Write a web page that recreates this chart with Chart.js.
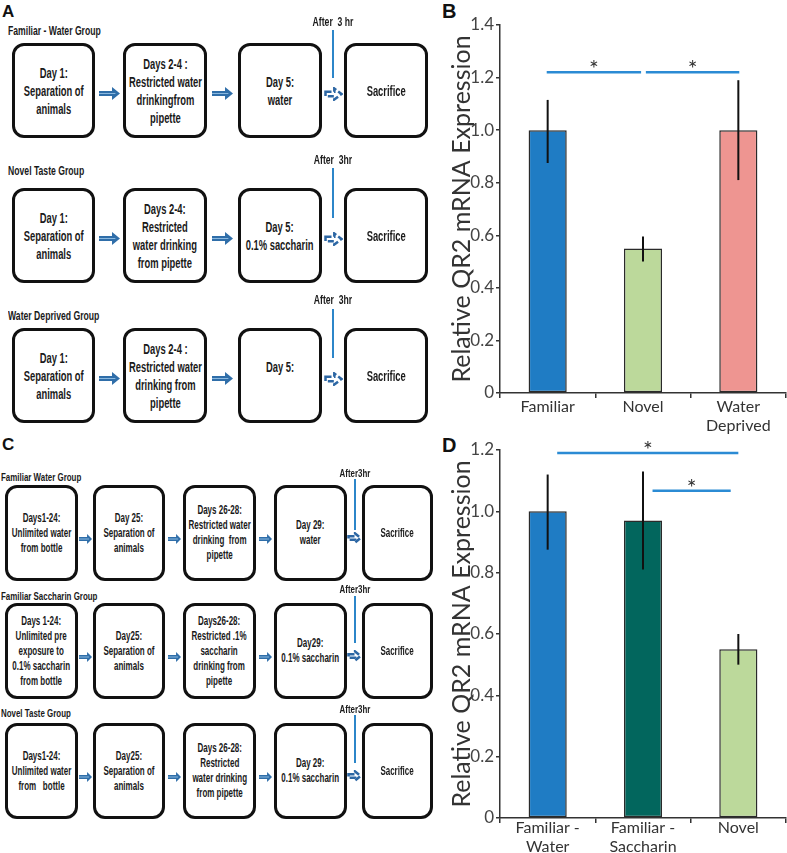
<!DOCTYPE html>
<html>
<head>
<meta charset="utf-8">
<script src="https://cdn.jsdelivr.net/npm/chart.js@4.4.0/dist/chart.umd.min.js"></script>
<style>
  body { margin: 0; background: #fff; }
  #page { position: relative; width: 787px; height: 853px; overflow: hidden; background: #fff; }
  .flow { font-family: "Liberation Sans Narrow", "Liberation Sans", Arial, sans-serif; font-weight: bold; color: #1a1a1a; }
  .box { position: absolute; box-sizing: border-box; border: 3px solid #111; border-radius: 12px; display: flex; align-items: center; justify-content: center; text-align: center; }
  .box .txt { white-space: nowrap; }
  .lbl { position: absolute; white-space: nowrap; transform-origin: left center; }
  .after { position: absolute; white-space: nowrap; }
  .vline { position: absolute; width: 2px; background: #2c86c9; }
  .panel { position: absolute; font-family: "Liberation Sans", Arial, sans-serif; font-weight: bold; color: #111; line-height: 1; }
  canvas { position: absolute; }
</style>
</head>
<body>
<div id="page">
  <div class="panel" style="left:2px;top:3px;font-size:17px">A</div>
  <div class="panel" style="left:442px;top:1px;font-size:20px">B</div>
  <div class="panel" style="left:2px;top:436px;font-size:17px">C</div>
  <div class="panel" style="left:442px;top:435px;font-size:20px">D</div>
  <canvas id="chartD" width="387" height="423" style="left:400px;top:430px"></canvas>
  <canvas id="chartB" width="387" height="445" style="left:400px;top:0px"></canvas>
</div>
<script>
// ---- chart data ----
const B_LABELS = ["Familiar", "Novel", ["Water", "Deprived"]];
const B_VALUES = [1.0, 0.55, 1.0];
const B_ERR_HI = [1.115, 0.595, 1.19];
const B_ERR_LO = [0.875, 0.50, 0.81];
const B_COLORS = ["#1f7cc4", "#bcd99b", "#ee9591"];
const B_SIG = [
  { from: -0.01, to: 0.98, y: 1.22 },
  { from: 1.03, to: 2.01, y: 1.22 },
];

const D_LABELS = [["Familiar -", "Water"], ["Familiar -", "Saccharin"], "Novel"];
const D_VALUES = [1.0, 0.97, 0.55];
const D_ERR_HI = [1.12, 1.13, 0.60];
const D_ERR_LO = [0.875, 0.81, 0.50];
const D_COLORS = ["#1f7cc4", "#02665d", "#bcd99b"];
const D_SIG = [
  { from: 0.1, to: 2.0, y: 1.19 },
  { from: 1.1, to: 1.92, y: 1.067 },
];

const Y_TITLE = "Relative QR2 mRNA Expression";

// ---- flow diagram text ----
const A_GROUPS = ["Familiar - Water Group", "Novel Taste Group", "Water Deprived Group"];
const A_AFTER = ["After  3 hr", "After  3hr", "After  3hr"];
const A_BOXES = [
  [["Day 1:", "Separation of", "animals"], ["Days 2-4 :", "Restricted water", "drinkingfrom", "pipette"], ["Day 5:", "water"], ["Sacrifice"]],
  [["Day 1:", "Separation of", "animals"], ["Days 2-4:", "Restricted", "water drinking", "from pipette"], ["Day 5:", "0.1% saccharin"], ["Sacrifice"]],
  [["Day 1:", "Separation of", "animals"], ["Days 2-4 :", "Restricted water", "drinking from", "pipette"], ["Day 5:", "\u00a0"], ["Sacrifice"]],
];
const C_GROUPS = ["Familiar  Water Group", "Familiar  Saccharin Group", "Novel Taste Group"];
const C_AFTER = ["After3hr", "After3hr", "After3hr"];
const C_BOXES = [
  [["Days1-24:", "Unlimited water", "from bottle"], ["Day 25:", "Separation of", "animals"], ["Days 26-28:", "Restricted water", "drinking  from", "pipette"], ["Day 29:", "water"], ["Sacrifice"]],
  [["Days 1-24:", "Unlimited pre", "exposure to", "0.1% saccharin", "from bottle"], ["Day25:", "Separation of", "animals"], ["Days26-28:", "Restricted .1%", "saccharin", "drinking from", "pipette"], ["Day29:", "0.1% saccharin"], ["Sacrifice"]],
  [["Days1-24:", "Unlimited water", "from   bottle"], ["Day25:", "Separation of", "animals"], ["Days 26-28:", "Restricted", "water drinking", "from pipette"], ["Day 29:", "0.1% saccharin"], ["Sacrifice"]],
];

// layout of the two diagrams
const A_LAYOUT = {
  cols: [[12, 95], [123, 207], [238, 322], [344, 428]],
  tops: [43, 188, 328], h: 95,
  groupY: [31, 171, 316], afterY: [22, 160, 300], lineTop: [30, 168, 309], lineBot: [78, 218, 358],
  font: 14, lh: 18, sx: 0.67, arrow: [21, 13], dash: [19, 14], groupFont: 12, gsx: 0.72,
};
const C_LAYOUT = {
  cols: [[5, 78], [93, 165], [183, 256], [274, 347], [362, 433]],
  tops: [485, 603, 723], h: 96,
  groupY: [477, 596, 713], afterY: [473, 589, 709], lineTop: [479, 596, 715], lineBot: [530, 643, 763],
  font: 12.5, lh: 15, sx: 0.64, arrow: [13, 10], dash: [15, 12], groupFont: 11, gsx: 0.72,
};

const page = document.getElementById("page");

function el(tag, cls, style, html) {
  const d = document.createElement(tag);
  if (cls) d.className = cls;
  Object.assign(d.style, style);
  if (html != null) d.innerHTML = html;
  page.appendChild(d);
  return d;
}

function solidArrow(cx, cy, w, h) {
  const p = `0,${h * 0.3} ${w * 0.62},${h * 0.3} ${w * 0.62},0 ${w},${h / 2} ${w * 0.62},${h} ${w * 0.62},${h * 0.7} 0,${h * 0.7}`;
  el("div", "", { position: "absolute", left: cx - w / 2 + "px", top: cy - h / 2 + "px" },
    `<svg width="${w}" height="${h}"><polygon points="${p}" fill="#2f6ea9"/>` +
    `<line x1="0" y1="${h / 2}" x2="${w * 0.78}" y2="${h / 2}" stroke="#8ab8df" stroke-width="1"/></svg>`);
}

function dashArrow(cx, cy, w, h) {
  const m = 1.5;
  const iw = w - 2 * m, ih = h - 2 * m;
  const p = `${m},${m + ih * 0.3} ${m + iw * 0.55},${m + ih * 0.3} ${m + iw * 0.55},${m} ${m + iw},${m + ih / 2} ${m + iw * 0.55},${m + ih} ${m + iw * 0.55},${m + ih * 0.7} ${m},${m + ih * 0.7}`;
  el("div", "", { position: "absolute", left: cx - w / 2 + "px", top: cy - h / 2 + "px" },
    `<svg width="${w}" height="${h}"><polygon points="${p}" fill="none" stroke="#2d67a4" stroke-width="2.5" stroke-dasharray="6,2.5"/></svg>`);
}

function drawFlow(L, groups, afters, boxes) {
  boxes.forEach((row, r) => {
    const top = L.tops[r];
    const cy = top + L.h / 2;
    el("div", "flow lbl", { left: (L.cols[0][0] - 4) + "px", top: (L.groupY[r] - 8) + "px", fontSize: L.groupFont + "px", lineHeight: "16px", transform: `scaleX(${L.gsx})` }, groups[r]);
    row.forEach((lines, c) => {
      const [x1, x2] = L.cols[c];
      const b = el("div", "flow box", { left: x1 + "px", top: top + "px", width: (x2 - x1) + "px", height: L.h + "px", fontSize: L.font + "px", lineHeight: L.lh + "px" });
      const t = document.createElement("div");
      t.className = "txt";
      t.style.transform = `scaleX(${L.sx})`;
      t.innerHTML = lines.map((s) => `<div>${s.replace(/  /g, " &nbsp;")}</div>`).join("");
      b.appendChild(t);
      if (c < row.length - 1) {
        const gx = (x2 + L.cols[c + 1][0]) / 2;
        if (c === row.length - 2) dashArrow(gx, cy + 3, L.dash[0], L.dash[1]);
        else solidArrow(gx, cy + 2, L.arrow[0], L.arrow[1]);
      }
    });
    const n = row.length;
    const lx = (L.cols[n - 2][1] + L.cols[n - 1][0]) / 2;
    el("div", "flow after", { left: lx + "px", top: L.afterY[r] + "px", fontSize: L.groupFont + "px", transform: `translate(-50%, -50%) scaleX(${L.gsx})` }, afters[r].replace(/  /g, " &nbsp;"));
    el("div", "vline", { left: (lx - 1) + "px", top: L.lineTop[r] + "px", height: (L.lineBot[r] - L.lineTop[r]) + "px" });
  });
}

drawFlow(A_LAYOUT, A_GROUPS, A_AFTER, A_BOXES);
drawFlow(C_LAYOUT, C_GROUPS, C_AFTER, C_BOXES);

// ---- charts ----
const FONT = "Lato, 'Open Sans', sans-serif";

const barExtras = {
  id: "barExtras",
  afterDatasetsDraw(chart, args, opts) {
    const { ctx, scales: { x, y } } = chart;
    const meta = chart.getDatasetMeta(0);
    ctx.save();
    ctx.strokeStyle = "#111";
    ctx.lineWidth = 2;
    opts.hi.forEach((h, i) => {
      const px = meta.data[i].x;
      ctx.beginPath();
      ctx.moveTo(px, y.getPixelForValue(opts.lo[i]));
      ctx.lineTo(px, y.getPixelForValue(h));
      ctx.stroke();
    });
    opts.sig.forEach((s) => {
      const py = y.getPixelForValue(s.y);
      const x1 = x.getPixelForValue(s.from);
      const x2 = x.getPixelForValue(s.to);
      ctx.strokeStyle = "#2b8bd4";
      ctx.lineWidth = 2.5;
      ctx.beginPath();
      ctx.moveTo(x1, py);
      ctx.lineTo(x2, py);
      ctx.stroke();
      ctx.fillStyle = "#333";
      ctx.font = "23px " + FONT;
      ctx.textAlign = "center";
      ctx.textBaseline = "alphabetic";
      ctx.fillText("*", (x1 + x2) / 2, py + 5);
    });
    ctx.restore();
  },
};

function makeChart(id, labels, values, colors, hi, lo, sig, yMax, padTop, xHeight, xPad) {
  return new Chart(document.getElementById(id), {
    type: "bar",
    data: {
      labels,
      datasets: [{
        data: values,
        backgroundColor: colors,
        borderColor: "#2a2a2a",
        borderWidth: 1.5,
        borderSkipped: false,
        categoryPercentage: 1,
        barPercentage: 0.4,
      }],
    },
    options: {
      responsive: false,
      animation: false,
      events: [],
      layout: { padding: { top: padTop, right: 1, left: 0, bottom: 0 } },
      plugins: {
        legend: { display: false },
        tooltip: { enabled: false },
        barExtras: { hi, lo, sig },
      },
      scales: {
        x: {
          grid: { offset: true, drawOnChartArea: false, tickLength: 5, color: "#333", lineWidth: 1.5 },
          border: { color: "#333", width: 1.5 },
          ticks: { color: "#333", font: { family: FONT, size: 16, lineHeight: 1.15 }, padding: xPad, maxRotation: 0, autoSkip: false },
          afterFit: (s) => { s.height = xHeight; },
        },
        y: {
          min: 0,
          max: yMax,
          grid: { drawOnChartArea: false, tickLength: 4, color: "#333", lineWidth: 1.5 },
          border: { color: "#333", width: 1.5 },
          ticks: {
            stepSize: 0.2,
            color: "#444",
            padding: 2,
            font: { family: FONT, size: 17 },
            callback: (v) => (v === 0 ? "0" : v.toFixed(1)),
          },
          title: { display: true, text: Y_TITLE, color: "#333", font: { family: FONT, size: 25 }, padding: { top: 47, bottom: 0 } },
          afterFit: (s) => { s.width = 100; },
        },
      },
    },
    plugins: [barExtras],
  });
}

makeChart("chartB", B_LABELS, B_VALUES, B_COLORS, B_ERR_HI, B_ERR_LO, B_SIG, 1.4, 25, 52, 0);
makeChart("chartD", D_LABELS, D_VALUES, D_COLORS, D_ERR_HI, D_ERR_LO, D_SIG, 1.2, 20, 35, -4);
</script>
</body>
</html>
